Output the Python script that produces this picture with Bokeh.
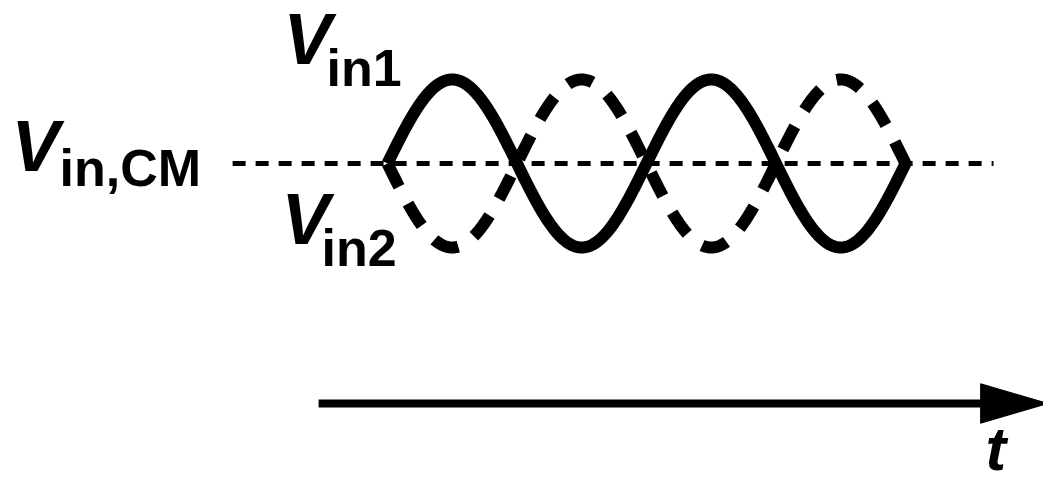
import numpy as np
from bokeh.plotting import figure
from bokeh.models import Range1d, Label
from bokeh.embed import file_html
from bokeh.resources import INLINE

# ---------------- data ----------------
cycles = 2              # number of periods drawn
amplitude = 1.0         # normalised differential swing
v_cm = 0.0              # common-mode level
samples = 600
t = np.linspace(0, cycles, samples)
vin1 = v_cm + amplitude * np.sin(2 * np.pi * t)
vin2 = v_cm - amplitude * np.sin(2 * np.pi * t)

cm_extent = [-0.598, 2.34]          # dashed V_in,CM reference (time units)
time_axis = [-0.266, 2.55]          # time arrow, start and tip (time units)
time_axis_level = -2.857            # vertical position of the time arrow

label_vin1 = ("V", "in1")
label_vcm = ("V", "in,CM")
label_vin2 = ("V", "in2")
label_t = "t"

# ---------------- layout ----------------
W, H = 1043, 486
OFF = 0                              # page offset of the canvas
X0, PX_PER_T = 387.0, 259.0          # page pixel of t=0 and pixels per period
Y0, PX_PER_V = 163.0, 84.0           # page pixel of v_cm and pixels per amplitude
BASE_SHIFT = 0.37                    # renderer's baseline shift, in em


def dx(px):
    return (px - X0) / PX_PER_T


def dy(py):
    return (Y0 - py) / PX_PER_V


FONT = "Liberation Sans"
INK = "#000000"

p = figure(width=W, height=H, output_backend="svg", toolbar_location=None,
           x_range=Range1d(dx(OFF), dx(OFF + W)), y_range=Range1d(dy(OFF + H), dy(OFF)),
           x_axis_location=None, y_axis_location=None, min_border=0,
           background_fill_color="white", border_fill_color="white")
p.outline_line_color = None
p.grid.visible = False

# common-mode reference
p.line(cm_extent, [v_cm, v_cm], line_color=INK, line_width=5, line_dash="13 10")

# inverted input (dashed) and input (solid)
p.line(t, vin2, line_color=INK, line_width=12, line_dash="26 19", line_cap="butt")
p.line(t, vin1, line_color=INK, line_width=12, line_join="round")

# time arrow
head_len = 0.26
head_half = 0.235
p.line([time_axis[0], time_axis[1] - head_len], [time_axis_level, time_axis_level],
       line_color=INK, line_width=8)
p.patch([time_axis[1] - head_len, time_axis[1], time_axis[1] - head_len],
        [time_axis_level + head_half, time_axis_level, time_axis_level - head_half],
        fill_color=INK, line_color=INK)


def add_label(x, baseline, text, size, style):
    anchor = baseline - BASE_SHIFT * size
    p.add_layout(Label(x=dx(x), y=dy(anchor), text=text, text_font=FONT,
                       text_font_size=f"{size}px", text_font_style=style,
                       text_color=INK, text_align="left",
                       text_baseline="alphabetic"))


add_label(283, 65, label_vin1[0], 72, "bold italic")
add_label(326, 87, label_vin1[1], 52, "bold")
add_label(11, 172, label_vcm[0], 72, "bold italic")
add_label(59, 187, label_vcm[1], 52, "bold")
add_label(281, 245, label_vin2[0], 72, "bold italic")
add_label(321, 267, label_vin2[1], 52, "bold")
add_label(985, 471, label_t, 62, "bold italic")

open("out.html", "w").write(file_html(p, INLINE))
